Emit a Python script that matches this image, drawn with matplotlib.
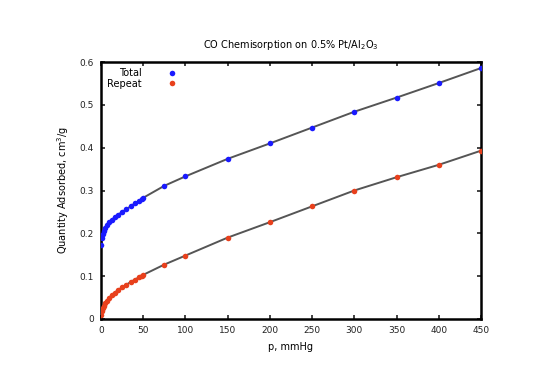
import matplotlib
matplotlib.use("Agg")
import matplotlib.pyplot as plt

p = [0.5, 1, 2, 3, 5, 7, 10, 13, 16, 20, 25, 30, 35, 40, 45, 48, 50,
     75, 100, 150, 200, 250, 300, 350, 400, 450]
total = [0.173, 0.19, 0.198, 0.205, 0.213, 0.219, 0.226, 0.232, 0.237, 0.243,
         0.25, 0.256, 0.263, 0.27, 0.276, 0.279, 0.283,
         0.311, 0.333, 0.374, 0.41, 0.447, 0.484, 0.517, 0.551, 0.586]
repeat = [0.01, 0.018, 0.025, 0.03, 0.037, 0.043, 0.05, 0.056, 0.061, 0.067,
          0.074, 0.08, 0.086, 0.092, 0.097, 0.1, 0.103,
          0.127, 0.148, 0.19, 0.226, 0.263, 0.3, 0.331, 0.36, 0.393]
xticks = [0, 50, 100, 150, 200, 250, 300, 350, 400, 450]
yticks = [0, 0.1, 0.2, 0.3, 0.4, 0.5, 0.6]
ytick_labels = ["0", "0.1", "0.2", "0.3", "0.4", "0.5", "0.6"]

fig = plt.figure(figsize=(5.41, 3.88), dpi=100)
ax = fig.add_axes([0.1867, 0.178, 0.7023, 0.662])

ax.plot(p, total, color="#555555", lw=1.4, zorder=2)
ax.plot(p, repeat, color="#555555", lw=1.4, zorder=2)
ax.plot(p, total, "o", color="#1a1aff", ms=4, mec="none", zorder=3, label="Total")
ax.plot(p, repeat, "o", color="#e8401c", ms=4, mec="none", zorder=3, label="Repeat")

ax.set_xlim(0, 450)
ax.set_ylim(0, 0.6)
ax.set_xticks(xticks)
ax.set_xticklabels([str(v) for v in xticks])
ax.set_yticks(yticks)
ax.set_yticklabels(ytick_labels)
ax.tick_params(direction="in", top=True, right=True, length=3, width=1.2,
               labelsize=6.5, colors="#222222", pad=5)
for s in ax.spines.values():
    s.set_linewidth(1.8)

ax.set_title("CO Chemisorption on 0.5% Pt/Al$_2$O$_3$", fontsize=7, pad=10)
ax.set_xlabel("p, mmHg", fontsize=7, labelpad=5)
ax.set_ylabel("Quantity Adsorbed, cm$^3$/g", fontsize=7, labelpad=6)

leg = ax.legend(loc="upper left", frameon=False, markerfirst=False, fontsize=7,
                handlelength=1.2, handletextpad=2.5, borderaxespad=0.2,
                labelspacing=0.1, bbox_to_anchor=(0.0, 1.0))

fig.savefig("out.png", dpi=100)
